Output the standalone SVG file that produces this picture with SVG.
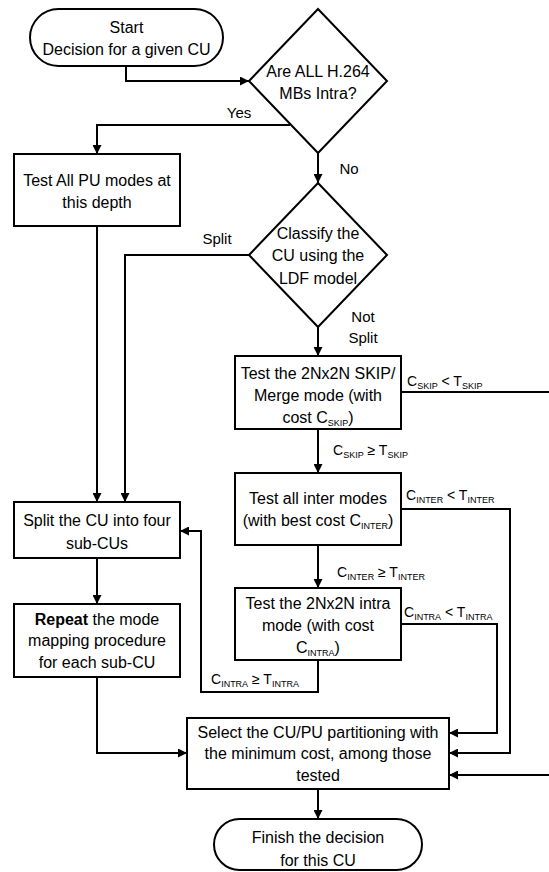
<svg xmlns="http://www.w3.org/2000/svg" width="549" height="872" viewBox="0 0 549 872">
<style>
.s{fill:#fff;stroke:#000;stroke-width:2}
.t{font-family:"Liberation Sans",Arial,sans-serif;font-size:16px;fill:#000;text-anchor:middle}
.l{font-family:"Liberation Sans",Arial,sans-serif;font-size:14px;fill:#000}
.y{font-size:15px}
.sb{font-size:9px}
.c{fill:none;stroke:#000;stroke-width:2}
</style>
<defs>
<marker id="a" viewBox="0 0 10 10" refX="10" refY="5" markerWidth="9" markerHeight="9" markerUnits="userSpaceOnUse" orient="auto">
<path d="M0,0 L10,5 L0,10 z" fill="#000"/>
</marker>
</defs>
<g id="connectors">
<path class="c" d="M126,66 V81 H249" marker-end="url(#a)"/>
<path class="c" d="M290,125 H97 V154" marker-end="url(#a)"/>
<path class="c" d="M318,153 V183" marker-end="url(#a)"/>
<path class="c" d="M249,255 H125 V502" marker-end="url(#a)"/>
<path class="c" d="M97,226 V502" marker-end="url(#a)"/>
<path class="c" d="M318,327 V356" marker-end="url(#a)"/>
<path class="c" d="M401,392 H551 V775 H449" marker-end="url(#a)"/>
<path class="c" d="M318,429 V473" marker-end="url(#a)"/>
<path class="c" d="M401,509 H510 V753 H449" marker-end="url(#a)"/>
<path class="c" d="M318,545 V588" marker-end="url(#a)"/>
<path class="c" d="M401,624 H497 V733 H449" marker-end="url(#a)"/>
<path class="c" d="M318,660 V692 H201 V531 H180" marker-end="url(#a)"/>
<path class="c" d="M97,558 V604" marker-end="url(#a)"/>
<path class="c" d="M97,677 V753 H187" marker-end="url(#a)"/>
<path class="c" d="M318,789 V819" marker-end="url(#a)"/>
<text class="l y" x="239" y="118" text-anchor="middle">Yes</text>
<text class="l y" x="349" y="174" text-anchor="middle">No</text>
<text class="l y" x="217" y="244" text-anchor="middle">Split</text>
<text class="l y" x="363" y="322" text-anchor="middle">Not</text>
<text class="l y" x="363" y="343" text-anchor="middle">Split</text>
<text class="l" x="407" y="386">C<tspan class="sb" dy="3">SKIP</tspan><tspan dy="-3"> &lt; T</tspan><tspan class="sb" dy="3">SKIP</tspan></text>
<text class="l" x="333" y="455">C<tspan class="sb" dy="3">SKIP</tspan><tspan dy="-3"> ≥  T</tspan><tspan class="sb" dy="3">SKIP</tspan></text>
<text class="l" x="406" y="500">C<tspan class="sb" dy="3">INTER</tspan><tspan dy="-3"> &lt;  T</tspan><tspan class="sb" dy="3">INTER</tspan></text>
<text class="l" x="337" y="577">C<tspan class="sb" dy="3">INTER</tspan><tspan dy="-3"> ≥  T</tspan><tspan class="sb" dy="3">INTER</tspan></text>
<text class="l" x="404" y="617">C<tspan class="sb" dy="3">INTRA</tspan><tspan dy="-3"> &lt;  T</tspan><tspan class="sb" dy="3">INTRA</tspan></text>
<text class="l" x="211" y="684">C<tspan class="sb" dy="3">INTRA</tspan><tspan dy="-3"> ≥  T</tspan><tspan class="sb" dy="3">INTRA</tspan></text>
</g>
<g id="start">
<rect class="s" x="30" y="9" width="193" height="57" rx="28.5"/>
<text class="t" x="126.5" y="33">Start</text>
<text class="t" x="126.5" y="55">Decision for a given CU</text>
</g>
<g id="d1">
<polygon class="s" points="318,9 387,81 318,153 249,81"/>
<text class="t" x="318" y="77">Are ALL H.264</text>
<text class="t" x="318" y="99">MBs Intra?</text>
</g>
<g id="testall">
<rect class="s" x="14" y="154" width="166" height="72"/>
<text class="t" x="97" y="186">Test All PU modes at</text>
<text class="t" x="97" y="208">this depth</text>
</g>
<g id="d2">
<polygon class="s" points="318,183 387,255 318,327 249,255"/>
<text class="t" x="318" y="239">Classify the</text>
<text class="t" x="318" y="261">CU using the</text>
<text class="t" x="318" y="284">LDF model</text>
</g>
<g id="skip">
<rect class="s" x="235" y="356" width="166" height="73"/>
<text class="t" x="318" y="379">Test the 2Nx2N SKIP/</text>
<text class="t" x="318" y="401">Merge mode (with</text>
<text class="t" x="318" y="423">cost C<tspan class="sb" dy="3">SKIP</tspan><tspan dy="-3">)</tspan></text>
</g>
<g id="inter">
<rect class="s" x="235" y="473" width="166" height="72"/>
<text class="t" x="318" y="504">Test all inter modes</text>
<text class="t" x="318" y="526">(with best cost C<tspan class="sb" dy="3">INTER</tspan><tspan dy="-3">)</tspan></text>
</g>
<g id="intra">
<rect class="s" x="235" y="588" width="166" height="72"/>
<text class="t" x="318" y="609">Test the 2Nx2N intra</text>
<text class="t" x="318" y="631">mode (with cost</text>
<text class="t" x="318" y="653">C<tspan class="sb" dy="3">INTRA</tspan><tspan dy="-3">)</tspan></text>
</g>
<g id="split">
<rect class="s" x="14" y="502" width="166" height="56"/>
<text class="t" x="97" y="526">Split the CU into four</text>
<text class="t" x="97" y="549">sub-CUs</text>
</g>
<g id="repeat">
<rect class="s" x="14" y="604" width="166" height="73"/>
<text class="t" x="97" y="625"><tspan font-weight="bold">Repeat</tspan> the mode</text>
<text class="t" x="97" y="646">mapping procedure</text>
<text class="t" x="97" y="668">for each sub-CU</text>
</g>
<g id="select">
<rect class="s" x="187" y="718" width="262" height="71"/>
<text class="t" x="318" y="738">Select the CU/PU partitioning with</text>
<text class="t" x="318" y="759">the minimum cost, among those</text>
<text class="t" x="318" y="781">tested</text>
</g>
<g id="finish">
<rect class="s" x="214" y="819" width="208" height="51" rx="25.5"/>
<text class="t" x="318" y="843">Finish the decision</text>
<text class="t" x="318" y="866">for this CU</text>
</g>
</svg>
